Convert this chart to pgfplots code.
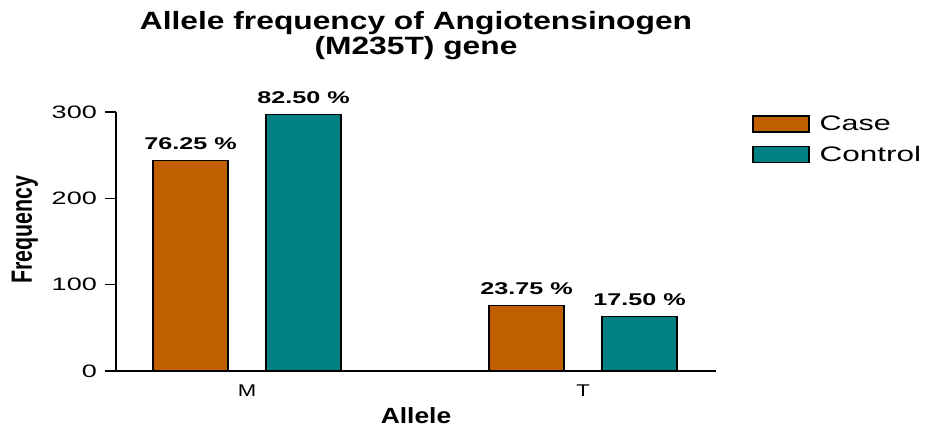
\documentclass[border=0pt]{standalone}
\usepackage{pgfplots}
\pgfplotsset{compat=1.18}
\usepackage{fontspec}
\setmainfont{Liberation Sans}
\definecolor{caseor}{RGB}{192,95,0}
\definecolor{ctrlteal}{RGB}{0,128,128}
\begin{document}
\begin{tikzpicture}
\path[use as bounding box] (-116pt,-57pt) rectangle (809pt,371pt);
\begin{axis}[
  scale only axis,
  width=600pt, height=259pt,
  xmin=-0.3899, xmax=1.3958,
  ymin=0, ymax=300,
  axis x line=bottom, axis y line=left,
  axis line style={-, line width=1.3pt, black},
  xtick={0,1},
  xticklabels={\scalebox{1.3}[1]{M},\scalebox{1.3}[1]{T}},
  x tick style={draw=none},
  tick align=outside,
  major tick length=11pt,
  ytick={0,100,200,300},
  y tick style={line width=1.3pt, black},
  /pgf/number format/assume math mode=true,
  yticklabel={\scalebox{1.5}[1]{\pgfmathprintnumber{\tick}}},
  yticklabel style={font=\fontsize{18}{18}\selectfont, anchor=east, xshift=-8pt, inner sep=0pt},
  xticklabel style={font=\fontsize{17}{17}\selectfont, anchor=north, yshift=-3pt, inner sep=0pt},
  xlabel={\scalebox{1.2}[1]{Allele}},
  xlabel style={font=\fontsize{22}{22}\selectfont\bfseries, at={(axis description cs:0.5,0)}, anchor=base, yshift=-52pt, inner sep=0pt},
  ylabel={\scalebox{1}[1.37]{Frequency}},
  ylabel style={font=\fontsize{21.4}{21.4}\selectfont\bfseries, at={(axis description cs:-0.152,0.545)}, anchor=center, rotate=0},
  title={\scalebox{1.27}[1]{Allele frequency of Angiotensinogen}\\\scalebox{1.27}[1]{(M235T) gene}},
  title style={font=\fontsize{25}{24.5}\selectfont\bfseries, align=center, at={(axis description cs:0.5,1)}, anchor=south, yshift=46pt, inner sep=0pt},
  ybar,
  bar width=75pt,
  point meta=explicit symbolic,
  nodes near coords={\scalebox{1.48}[1]{\pgfplotspointmeta}},
  every node near coord/.append style={font=\fontsize{17}{17}\selectfont\bfseries, anchor=south, inner sep=0pt, yshift=10pt, black},
  legend image code/.code={\draw[#1, line width=1.5pt] (0pt,-8pt) rectangle (56pt,8pt);},
  legend style={draw=none, fill=none, at={(1.06,0.988)}, anchor=north west, inner sep=0pt, row sep=13pt, column sep=10pt, font=\fontsize{21}{21}\selectfont, nodes={inner sep=0pt}},
  legend cell align=left,
  clip=false,
]
\addplot[ybar, fill=caseor, draw=black, line width=1.5pt, bar shift=-56.5pt] coordinates {(0,244) [76.25 \%] (1,76) [23.75 \%]};
\addlegendentry{\scalebox{1.45}[1]{Case}}
\addplot[ybar, fill=ctrlteal, draw=black, line width=1.5pt, bar shift=56.5pt] coordinates {(0,297) [82.50 \%] (1,63) [17.50 \%]};
\addlegendentry{\scalebox{1.5}[1]{Control}}
\draw[line width=1.3pt] ([xshift=-11pt]rel axis cs:0,0) -- (rel axis cs:0,0);
\end{axis}
\end{tikzpicture}
\end{document}
